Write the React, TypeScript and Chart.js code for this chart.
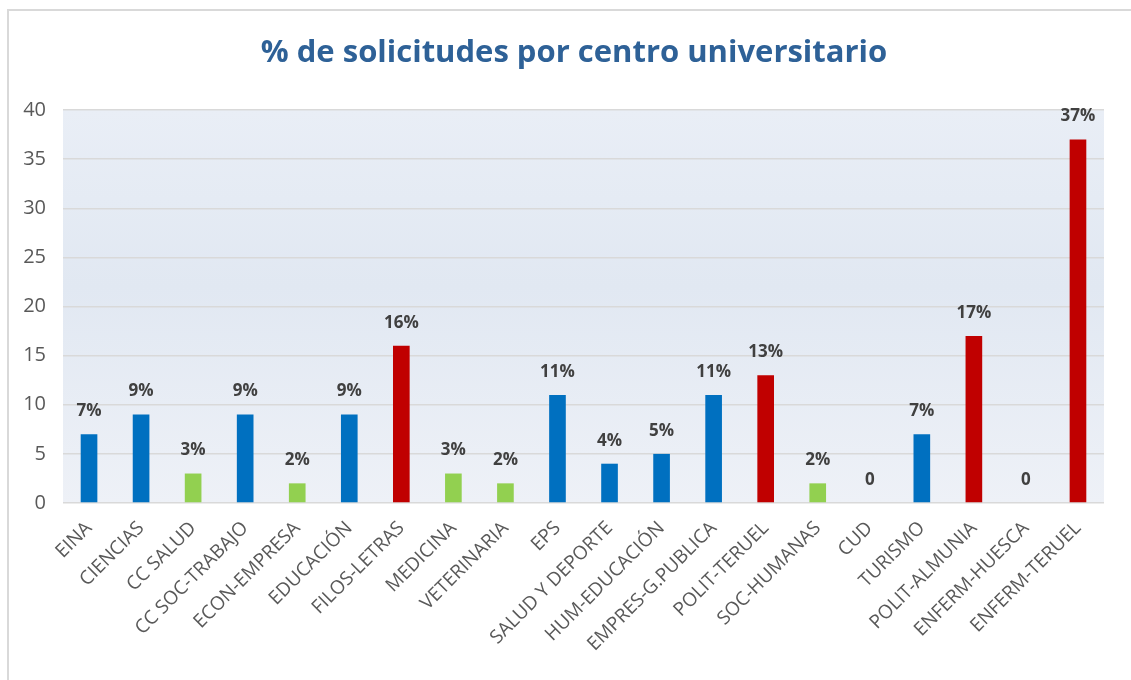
import React, { useEffect, useRef } from "react";
import { Chart, registerables } from "chart.js";

Chart.register(...registerables);

const TITLE = "% de solicitudes por centro universitario";

const categories = [
  "EINA",
  "CIENCIAS",
  "CC SALUD",
  "CC SOC-TRABAJO",
  "ECON-EMPRESA",
  "EDUCACIÓN",
  "FILOS-LETRAS",
  "MEDICINA",
  "VETERINARIA",
  "EPS",
  "SALUD Y DEPORTE",
  "HUM-EDUCACIÓN",
  "EMPRES-G.PUBLICA",
  "POLIT-TERUEL",
  "SOC-HUMANAS",
  "CUD",
  "TURISMO",
  "POLIT-ALMUNIA",
  "ENFERM-HUESCA",
  "ENFERM-TERUEL",
];

const values = [7, 9, 3, 9, 2, 9, 16, 3, 2, 11, 4, 5, 11, 13, 2, 0, 7, 17, 0, 37];

// group: b = blue, g = green, r = red
const groups = ["b", "b", "g", "b", "g", "b", "r", "g", "g", "b", "b", "b", "b", "r", "g", "b", "b", "r", "b", "r"];

const yTicks = [0, 5, 10, 15, 20, 25, 30, 35, 40];

const groupColors: Record<string, string> = {
  b: "#0070C0",
  g: "#92D050",
  r: "#C00000",
};

const bgPlugin = {
  id: "bgPlugin",
  beforeDraw(chart: any) {
    const { ctx, chartArea } = chart;
    if (!chartArea) return;
    const g = ctx.createLinearGradient(0, chartArea.top, 0, chartArea.bottom);
    g.addColorStop(0, "#E9EEF6");
    g.addColorStop(0.45, "#E1E8F2");
    g.addColorStop(1, "#EEF1F7");
    ctx.save();
    ctx.fillStyle = g;
    ctx.fillRect(chartArea.left, chartArea.top, chartArea.right - chartArea.left, chartArea.bottom - chartArea.top);
    ctx.restore();
  },
};

const titlePlugin = {
  id: "titlePlugin",
  afterDraw(chart: any) {
    const { ctx } = chart;
    ctx.save();
    ctx.font = "bold 31px 'Open Sans'";
    ctx.fillStyle = "#2E6197";
    ctx.textAlign = "center";
    ctx.textBaseline = "middle";
    ctx.fillText(TITLE, 574, 53);
    ctx.restore();
  },
};

const labelPlugin = {
  id: "labelPlugin",
  afterDatasetsDraw(chart: any) {
    const { ctx } = chart;
    const meta = chart.getDatasetMeta(0);
    ctx.save();
    ctx.font = "bold 17px 'Open Sans'";
    ctx.fillStyle = "#404040";
    ctx.textAlign = "center";
    ctx.textBaseline = "middle";
    meta.data.forEach((bar: any, i: number) => {
      const v = values[i];
      const text = v === 0 ? "0" : v + "%";
      ctx.fillText(text, bar.x, bar.y - 23);
    });
    ctx.restore();
  },
};

export default function App() {
  const ref = useRef<HTMLCanvasElement | null>(null);

  useEffect(() => {
    if (!ref.current) return;
    const chart = new Chart(ref.current, {
      type: "bar",
      data: {
        labels: categories,
        datasets: [
          {
            data: values,
            backgroundColor: groups.map((g) => groupColors[g]),
            barPercentage: 0.32,
            categoryPercentage: 1,
            borderWidth: 0,
          },
        ],
      },
      options: {
        responsive: false,
        animation: false,
        maintainAspectRatio: false,
        layout: {
          padding: { left: 8, right: 27, top: 110, bottom: 0 },
        },
        plugins: {
          legend: { display: false },
          title: { display: false },
          tooltip: { enabled: false },
        },
        scales: {
          x: {
            grid: { display: false },
            border: { display: false },
            ticks: {
              autoSkip: false,
              minRotation: 45,
              maxRotation: 45,
              padding: 6,
              color: "#595959",
              font: { family: "'Open Sans'", size: 19 },
            },
            afterFit(scale: any) {
              scale.height = 177;
            },
          },
          y: {
            min: 0,
            max: 40,
            afterBuildTicks(scale: any) {
              scale.ticks = yTicks.map((v) => ({ value: v }));
            },
            grid: {
              color: "#D9D9D9",
              lineWidth: 1.5,
              drawTicks: false,
            },
            border: { display: false },
            ticks: {
              padding: 17,
              color: "#595959",
              font: { family: "'Open Sans'", size: 20 },
            },
            afterFit(scale: any) {
              scale.width = 55;
            },
          },
        },
      },
      plugins: [bgPlugin, labelPlugin, titlePlugin],
    });
    return () => chart.destroy();
  }, []);

  return (
    <div style={{ position: "fixed", left: 0, top: 0, width: 1131, height: 680, background: "#fff" }}>
      <div
        style={{
          position: "absolute",
          left: 7,
          top: 9,
          right: 0,
          bottom: 0,
          borderTop: "2px solid #D9D9D9",
          borderLeft: "2px solid #D9D9D9",
        }}
      />
      <canvas ref={ref} width={1131} height={680} style={{ position: "absolute", left: 0, top: 0 }} />
    </div>
  );
}
